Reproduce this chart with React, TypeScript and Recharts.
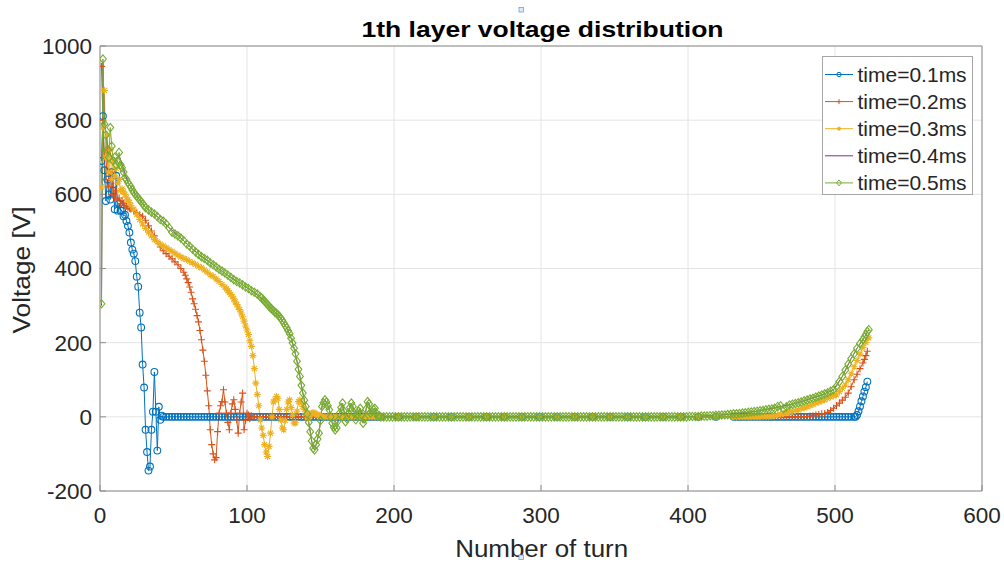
import React from 'react';
import { LineChart, Line, XAxis, YAxis, CartesianGrid, Legend } from 'recharts';

const xTicks = [0, 100, 200, 300, 400, 500, 600];
const yTicks = [-200, 0, 200, 400, 600, 800, 1000];
const seriesNames = ['time=0.1ms', 'time=0.2ms', 'time=0.3ms', 'time=0.4ms', 'time=0.5ms'];
const seriesColors = ['#0072BD', '#D95319', '#EDB120', '#7E2F8E', '#77AC30'];
const seriesMarkers = ['circle', 'plus', 'star', 'none', 'diamond'];

// [turn, voltage]
const time01: [number, number][] = [
  [1, 690], [2, 811], [3, 665], [4, 582], [5, 640], [6, 600], [7, 586], [8, 660], [9, 610], [10, 560],
  [11, 650], [12, 556], [13, 575], [14, 556], [15, 556], [16, 541], [17, 545], [18, 528], [19, 515], [20, 497],
  [21, 470], [22, 451], [23, 440], [24, 420], [25, 378], [26, 351], [27, 281], [28, 241], [29, 141], [30, 79],
  [31, -35], [32, -95], [33, -145], [34, -134], [35, -35], [36, 14], [37, 121], [38, 14], [39, -91], [40, 27],
  [41, -8], [42, 3],
  [43, 0], [45, 0], [47, 0], [49, 0], [51, 0], [53, 0], [55, 0], [57, 0], [59, 0], [61, 0], [63, 0], [65, 0],
  [67, 0], [69, 0], [71, 0], [73, 0], [75, 0], [77, 0], [79, 0], [81, 0], [83, 0], [85, 0], [87, 0], [89, 0],
  [91, 0], [93, 0], [95, 0], [97, 0], [99, 0], [101, 0], [103, 0], [105, 0], [107, 0], [109, 0], [111, 0],
  [113, 0], [115, 0], [117, 0], [119, 0], [121, 0], [123, 0], [125, 0], [127, 0], [129, 0], [131, 0], [133, 0],
  [135, 0], [137, 0], [139, 0], [141, 0], [143, 0], [145, 0], [147, 0], [149, 0], [151, 0], [153, 0], [155, 0],
  [157, 0], [159, 0], [161, 0], [163, 0], [165, 0], [167, 0], [169, 0], [171, 0], [173, 0], [175, 0], [177, 0],
  [179, 0], [181, 0], [183, 0], [185, 0], [187, 0], [189, 0], [191, 0],
  [203, 0], [215, 0], [227, 0], [239, 0], [251, 0], [263, 0], [275, 0], [287, 0], [299, 0], [311, 0], [323, 0],
  [335, 0], [347, 0], [359, 0], [371, 0], [383, 0], [395, 0], [407, 0], [419, 0], [431, 0],
  [433, 0], [435, 0], [437, 0], [439, 0], [441, 0], [443, 0], [445, 0], [447, 0], [449, 0], [451, 0], [453, 0],
  [455, 0], [457, 0], [459, 0], [461, 0], [463, 0], [465, 0], [467, 0], [469, 0], [471, 0], [473, 0], [475, 0],
  [477, 0], [479, 0], [481, 0], [483, 0], [485, 0], [487, 0], [489, 0], [491, 0], [493, 0], [495, 0], [497, 0],
  [499, 0], [501, 0], [503, 0], [505, 0], [507, 0], [509, 0], [511, 0], [513, 0], [514, 0],
  [515, 5], [516, 15], [517, 28], [518, 42], [519, 55], [520, 68], [521, 80], [522, 95],
];

const time02: [number, number][] = [
  [1, 945], [2, 800], [3, 700], [4, 640], [5, 720], [6, 620], [7, 660], [8, 600], [9, 640], [10, 590],
  [11, 610], [12, 585], [13, 590], [14, 575], [15, 582], [16, 576], [17, 570], [18, 568], [19, 565], [20, 562],
  [21, 560], [23, 555], [25, 550], [27, 545], [29, 541], [31, 530], [33, 515], [35, 501], [37, 488], [39, 472],
  [41, 458], [43, 448], [45, 440], [47, 433], [49, 426], [51, 418], [53, 410], [55, 400], [57, 390], [58, 382],
  [59, 372], [60, 362], [61, 350], [62, 336], [63, 318],
  [64, 305], [65, 290], [66, 273], [67, 256], [68, 233], [69, 208], [70, 180], [71, 150], [72, 112], [73, 70],
  [74, 30], [75, -35], [76, -75], [77, -100], [78, -116], [79, -110], [80, -40], [81, 10], [82, 30], [83, 41],
  [84, 73], [85, 40], [86, 10], [87, -15], [88, -35], [89, 10], [90, 35], [91, 46], [92, 20], [93, -8],
  [94, -44], [95, 10], [96, 40], [97, 64], [98, -35], [99, -10], [100, 10], [101, 5], [102, -5], [103, 3],
  [105, 0], [107, 0], [109, 0], [111, 0], [113, 0], [115, 0], [117, 0], [119, 0], [121, 0], [123, 0], [125, 0],
  [127, 0], [129, 0], [131, 0], [133, 0], [135, 0], [137, 0], [139, 0], [141, 0], [143, 0], [145, 0], [147, 0],
  [149, 0], [151, 0], [153, 0], [155, 0], [157, 0], [159, 0], [161, 0], [163, 0], [165, 0], [167, 0], [169, 0],
  [171, 0], [173, 0], [175, 0], [177, 0], [179, 0], [181, 0], [183, 0], [185, 0], [187, 0], [189, 0], [191, 0],
  [203, 0], [215, 0], [227, 0], [239, 0], [251, 0], [263, 0], [275, 0], [287, 0], [299, 0], [311, 0], [323, 0],
  [335, 0], [347, 0], [359, 0], [371, 0], [383, 0], [395, 0], [407, 0], [419, 0], [431, 0],
  [433, 0], [435, 0], [437, 0], [439, 0], [441, 0], [443, 0], [445, 0], [447, 0], [449, 0], [451, 0], [453, 0],
  [455, 0], [457, 0], [459, 0], [461, 0], [463, 0], [465, 0], [467, 0], [469, 0], [471, 0], [473, 0], [475, 0],
  [477, 0], [479, 0], [481, 1], [483, 2], [485, 3], [487, 5], [489, 6], [491, 8], [493, 9], [495, 12],
  [497, 17], [499, 23], [501, 30], [503, 37], [505, 45], [507, 53], [509, 64], [511, 81], [513, 100],
  [515, 115], [517, 130], [519, 145], [520, 155], [521, 165], [522, 177],
];

const time03: [number, number][] = [
  [1, 620], [2, 780], [3, 880], [4, 700], [5, 760], [6, 660], [7, 720], [8, 640], [9, 690], [10, 650],
  [11, 670], [12, 630], [13, 640], [14, 610], [15, 615], [16, 607], [17, 600], [18, 592], [19, 585], [20, 578],
  [21, 570], [23, 560], [25, 545],
  [27, 532], [29, 520], [31, 508], [33, 498], [35, 488], [37, 478], [39, 472], [41, 466], [43, 461], [45, 456],
  [47, 451], [49, 446], [51, 441], [53, 436], [55, 431], [57, 427], [59, 424], [61, 419], [63, 415], [65, 411],
  [67, 406], [69, 402], [71, 396], [73, 390], [75, 383], [77, 379], [79, 372], [81, 365], [83, 357], [85, 350],
  [86, 345], [87, 340], [88, 335], [89, 330], [90, 325], [91, 318], [92, 310], [93, 303], [94, 296], [95, 289],
  [96, 280], [97, 270],
  [98, 258], [99, 245], [100, 234], [101, 222], [102, 205], [103, 190], [104, 165], [105, 130], [106, 91], [107, 60],
  [108, 30], [109, -8], [110, -30], [111, -50], [112, -75], [113, -95], [114, -107], [115, -80], [116, -44], [117, 0],
  [118, 40], [119, 46], [120, 55], [121, 50], [122, 20], [123, -8], [124, -30], [125, -35], [126, -10], [127, 20],
  [128, 40], [129, 46], [130, 25], [131, 5], [132, -17], [133, -16], [134, 15], [135, 41], [136, 46], [137, 38],
  [138, 28], [139, 20], [140, 8], [141, -3], [142, -3], [143, 5], [144, 10], [145, 12], [146, 10], [147, 7],
  [148, 5], [149, 3], [150, 2], [151, 1],
  [153, 0], [155, 0], [157, 0], [159, 0], [161, 0], [163, 0], [165, 0], [167, 0], [169, 0], [171, 0], [173, 0],
  [175, 0], [177, 0], [179, 0], [181, 0], [183, 0], [185, 0], [187, 0], [189, 0], [191, 0],
  [203, 0], [215, 0], [227, 0], [239, 0], [251, 0], [263, 0], [275, 0], [287, 0], [299, 0], [311, 0], [323, 0],
  [335, 0], [347, 0], [359, 0], [371, 0], [383, 0], [395, 0], [407, 0], [419, 0], [431, 0],
  [433, 0], [435, 0], [437, 0], [439, 0], [441, 0], [443, 0], [445, 0], [447, 0], [449, 0], [451, 1], [453, 1],
  [455, 1], [457, 2], [459, 3], [461, 5], [463, 7], [465, 9], [467, 11], [469, 13], [471, 15], [473, 17],
  [475, 19], [477, 22], [479, 24], [481, 27], [483, 30], [485, 33], [487, 37], [489, 40], [491, 43], [493, 46],
  [495, 50], [497, 54], [499, 57], [501, 59], [503, 68], [505, 77], [507, 86], [509, 100], [511, 116],
  [513, 135], [515, 152], [517, 169], [519, 187], [521, 200], [523, 213],
];

const time04: [number, number][] = [
  [1, 300], [2, 955], [3, 800], [5, 730], [9, 690], [13, 705], [19, 632], [25, 595], [31, 564], [39, 540],
  [47, 510], [55, 482], [63, 452], [71, 427], [79, 404], [87, 382], [95, 361], [103, 340], [111, 316], [117, 290],
  [121, 275], [125, 253], [128, 232], [130, 212], [132, 185], [134, 150], [136, 109], [137, 85], [138, 64],
  [139, 45], [140, 28], [141, 8], [142, -15], [143, -40], [144, -65], [145, -85], [146, -89], [147, -75],
  [148, -60], [149, -44], [150, -10], [151, 28], [152, 38], [153, 46], [154, 40], [155, 30], [156, 19], [157, 0],
  [158, -17], [159, -28], [160, -35], [161, -30], [162, -10], [163, 10], [164, 25], [165, 37], [166, 15],
  [167, -13], [168, -5], [169, 10], [170, 25], [171, 37], [172, 28], [173, 10], [174, -8], [175, 5], [176, 15],
  [177, 23], [178, 5], [179, -17], [180, -5], [181, 20], [182, 41], [183, 35], [184, 10], [185, 15], [186, 20],
  [187, 23], [188, 10], [189, 1], [190, 3], [191, 0], [251, 0], [311, 0], [371, 0], [399, 0], [423, 5],
  [447, 15], [471, 34], [491, 59], [499, 73], [505, 109], [511, 157], [515, 185], [519, 208], [523, 235],
];

const time05: [number, number][] = [
  [1, 305], [2, 965], [3, 790], [4, 760], [5, 720], [6, 700], [7, 780], [8, 730], [9, 690], [10, 700],
  [11, 680], [12, 690], [13, 713], [14, 680], [15, 672], [16, 660], [17, 645], [18, 640], [19, 632], [20, 626],
  [21, 620], [22, 612], [23, 605], [24, 600], [25, 595], [26, 590], [27, 585], [28, 580], [29, 575], [30, 570],
  [31, 564], [33, 558], [35, 552], [37, 547], [39, 540], [41, 532],
  [43, 528], [45, 520], [47, 510], [49, 498], [51, 493], [53, 488], [55, 482], [57, 475], [59, 466], [61, 460],
  [63, 452], [65, 445], [67, 438], [69, 432], [71, 427], [73, 422], [75, 415], [77, 410], [79, 404], [81, 398],
  [83, 393], [85, 388], [87, 382], [89, 376], [91, 370], [93, 365], [95, 361], [97, 356], [99, 350], [101, 346],
  [103, 340], [105, 336], [107, 331], [109, 324], [110, 320], [111, 316], [112, 312], [113, 307], [114, 303],
  [115, 298], [116, 294], [117, 290], [118, 286], [119, 282], [120, 279],
  [121, 275], [122, 271], [123, 266], [124, 260], [125, 253], [126, 246], [127, 240], [128, 232], [129, 224],
  [130, 212], [131, 199], [132, 185], [133, 170], [134, 150], [135, 128], [136, 109], [137, 85], [138, 64],
  [139, 45], [140, 28], [141, 8], [142, -15], [143, -40], [144, -65], [145, -85], [146, -89], [147, -75],
  [148, -60], [149, -44], [150, -10], [151, 28], [152, 38], [153, 46], [154, 40], [155, 30], [156, 19], [157, 0],
  [158, -17], [159, -28], [160, -35], [161, -30], [162, -10], [163, 10], [164, 25], [165, 37], [166, 15],
  [167, -13], [168, -5], [169, 10], [170, 25], [171, 37], [172, 28], [173, 10], [174, -8], [175, 5], [176, 15],
  [177, 23], [178, 5], [179, -17], [180, -5], [181, 20], [182, 41], [183, 35], [184, 10], [185, 15], [186, 20],
  [187, 23], [188, 10], [189, 1], [190, 3], [191, 0],
  [193, 0], [195, 0], [197, 0], [199, 0], [201, 0], [203, 0], [205, 0], [207, 0], [209, 0], [211, 0], [213, 0],
  [215, 0], [217, 0], [219, 0], [221, 0], [223, 0], [225, 0], [227, 0], [229, 0], [231, 0], [233, 0], [235, 0],
  [237, 0], [239, 0], [241, 0], [243, 0], [245, 0], [247, 0], [249, 0], [251, 0], [253, 0], [255, 0], [257, 0],
  [259, 0], [261, 0], [263, 0], [265, 0], [267, 0], [269, 0], [271, 0], [273, 0], [275, 0], [277, 0], [279, 0],
  [281, 0], [283, 0], [285, 0], [287, 0], [289, 0], [291, 0], [293, 0], [295, 0], [297, 0], [299, 0], [301, 0],
  [303, 0], [305, 0], [307, 0], [309, 0], [311, 0], [313, 0], [315, 0], [317, 0], [319, 0], [321, 0], [323, 0],
  [325, 0], [327, 0], [329, 0], [331, 0], [333, 0], [335, 0], [337, 0], [339, 0], [341, 0], [343, 0], [345, 0],
  [347, 0], [349, 0], [351, 0], [353, 0], [355, 0], [357, 0], [359, 0], [361, 0], [363, 0], [365, 0], [367, 0],
  [369, 0], [371, 0], [373, 0], [375, 0], [377, 0], [379, 0], [381, 0], [383, 0], [385, 0], [387, 0], [389, 0],
  [391, 0], [393, 0], [395, 0], [397, 0], [399, 0],
  [401, 1], [403, 1], [405, 1], [407, 1], [409, 2], [411, 2], [413, 2], [415, 3], [417, 3], [419, 4], [421, 4],
  [423, 5], [425, 5], [427, 6], [429, 7], [431, 8], [433, 8], [435, 9], [437, 10], [439, 11], [441, 12],
  [443, 13], [445, 14], [447, 15], [449, 16], [451, 17], [453, 19], [455, 20], [457, 21], [459, 23], [461, 28],
  [463, 30], [465, 22], [467, 27], [469, 32], [471, 34], [473, 36], [475, 38], [477, 40], [479, 43], [481, 45],
  [483, 48], [485, 50], [487, 53], [489, 56], [491, 59], [493, 62], [495, 65], [497, 69], [499, 73], [501, 82],
  [503, 95], [505, 109], [507, 126], [509, 142], [511, 157], [513, 170], [515, 185], [517, 198], [519, 208],
  [520, 215], [521, 222], [522, 230], [523, 235],
];

const seriesData = [time01, time02, time03, time04, time05].map((pairs) =>
  pairs.map(([t, v]) => ({ t, v }))
);

const FONT = '"Liberation Sans", Arial, Helvetica, sans-serif';
const TEXT = '#262626';
const AXIS = '#8c8c8c';

function Marker({ kind, cx, cy, color }: { kind: string; cx: number; cy: number; color: string }) {
  if (cx == null || cy == null || Number.isNaN(cx) || Number.isNaN(cy)) return null;
  const sw = 1.1;
  if (kind === 'circle') {
    return <circle cx={cx} cy={cy} r={3.4} fill="none" stroke={color} strokeWidth={sw} />;
  }
  if (kind === 'plus') {
    return (
      <path d={`M${cx - 3.5},${cy}H${cx + 3.5}M${cx},${cy - 3.5}V${cy + 3.5}`} fill="none" stroke={color} strokeWidth={sw} />
    );
  }
  if (kind === 'star') {
    return (
      <path
        d={`M${cx - 3.5},${cy}H${cx + 3.5}M${cx},${cy - 3.5}V${cy + 3.5}M${cx - 2.5},${cy - 2.5}L${cx + 2.5},${cy + 2.5}M${cx - 2.5},${cy + 2.5}L${cx + 2.5},${cy - 2.5}`}
        fill="none"
        stroke={color}
        strokeWidth={sw}
      />
    );
  }
  if (kind === 'diamond') {
    return (
      <path
        d={`M${cx},${cy - 4.2}L${cx + 3.4},${cy}L${cx},${cy + 4.2}L${cx - 3.4},${cy}Z`}
        fill="none"
        stroke={color}
        strokeWidth={sw}
      />
    );
  }
  return null;
}

function LegendMarker({ kind, cx, cy, color }: { kind: string; cx: number; cy: number; color: string }) {
  if (kind === 'circle') return <circle cx={cx} cy={cy} r={2.2} fill="none" stroke={color} strokeWidth={1} />;
  if (kind === 'plus') return <path d={`M${cx - 2},${cy}H${cx + 2}M${cx},${cy - 2.5}V${cy + 2.5}`} stroke={color} strokeWidth={1} />;
  if (kind === 'star') return <circle cx={cx} cy={cy} r={1.6} fill={color} stroke={color} strokeWidth={0.8} />;
  if (kind === 'diamond')
    return <path d={`M${cx},${cy - 3}L${cx + 2.4},${cy}L${cx},${cy + 3}L${cx - 2.4},${cy}Z`} fill="none" stroke={color} strokeWidth={1} />;
  return null;
}

const renderLegend = () => (
  <svg width={152} height={140} style={{ display: 'block', overflow: 'visible' }}>
    <rect x={0.5} y={0.5} width={150} height={138} fill="#ffffff" stroke="#a6a6a6" strokeWidth={1} />
    {seriesNames.map((name, i) => {
      const cy = 18.5 + i * 27.1;
      return (
        <g key={name}>
          <line x1={3} x2={31} y1={cy} y2={cy} stroke={seriesColors[i]} strokeWidth={1} />
          <LegendMarker kind={seriesMarkers[i]} cx={17} cy={cy} color={seriesColors[i]} />
          <text x={35.5} y={cy + 7.5} fontSize={21} fill={TEXT} fontFamily={FONT}>
            {name}
          </text>
        </g>
      );
    })}
  </svg>
);

export default function App() {
  const tickStyle = { fontSize: 22.5, fill: TEXT, fontFamily: FONT };
  return (
    <div style={{ position: 'absolute', left: 0, top: 0, width: 1004, height: 562, background: '#fff', fontFamily: FONT }}>
      <LineChart width={1004} height={562} margin={{ top: 26, right: 2, bottom: 41, left: 40 }}>
        <CartesianGrid stroke="#e4e4e4" strokeWidth={1} />
        <XAxis
          type="number"
          dataKey="t"
          domain={[0, 600]}
          ticks={xTicks}
          interval={0}
          height={30}
          tick={tickStyle}
          tickSize={-6}
          tickMargin={22}
          stroke={AXIS}
          tickLine={{ stroke: AXIS }}
          allowDataOverflow
        />
        <XAxis
          xAxisId="top"
          orientation="top"
          type="number"
          domain={[0, 600]}
          ticks={xTicks}
          interval={0}
          height={20}
          tick={false}
          tickSize={-6}
          stroke={AXIS}
          allowDataOverflow
        />
        <YAxis
          type="number"
          domain={[-200, 1000]}
          ticks={yTicks}
          interval={0}
          width={60}
          tick={tickStyle}
          tickSize={-6}
          tickMargin={14}
          stroke={AXIS}
          tickLine={{ stroke: AXIS }}
          allowDataOverflow
        />
        <YAxis
          yAxisId="right"
          orientation="right"
          type="number"
          domain={[-200, 1000]}
          ticks={yTicks}
          interval={0}
          width={20}
          tick={false}
          tickSize={-6}
          stroke={AXIS}
          allowDataOverflow
        />
        {seriesData.map((rows, i) => (
          <Line
            key={seriesNames[i]}
            data={rows}
            dataKey="v"
            name={seriesNames[i]}
            type="linear"
            stroke={seriesColors[i]}
            strokeWidth={1}
            isAnimationActive={false}
            activeDot={false}
            dot={
              seriesMarkers[i] === 'none'
                ? false
                : (p: any) => (
                    <Marker key={`m${i}-${p.index}`} kind={seriesMarkers[i]} cx={p.cx} cy={p.cy} color={seriesColors[i]} />
                  )
            }
          />
        ))}
        <Legend
          content={renderLegend}
          layout="vertical"
          align="center"
          verticalAlign="middle"
          wrapperStyle={{ left: 822, top: 56, width: 152, height: 140 }}
        />
      </LineChart>
      <svg
        width={1004}
        height={562}
        style={{ position: 'absolute', left: 0, top: 0, pointerEvents: 'none' }}
      >
        <text
          x={542.5}
          y={36.7}
          textAnchor="middle"
          fontSize={22}
          fontWeight="bold"
          fill="#000"
          fontFamily={FONT}
          textLength={362}
          lengthAdjust="spacingAndGlyphs"
        >
          1th layer voltage distribution
        </text>
        <text
          x={541.7}
          y={556.7}
          textAnchor="middle"
          fontSize={23}
          fill={TEXT}
          fontFamily={FONT}
          textLength={173}
          lengthAdjust="spacingAndGlyphs"
        >
          Number of turn
        </text>
        <text
          transform="translate(29.5,270) rotate(-90)"
          x={0}
          y={0}
          textAnchor="middle"
          fontSize={23}
          fill={TEXT}
          fontFamily={FONT}
          textLength={127}
          lengthAdjust="spacingAndGlyphs"
        >
          Voltage [V]
        </text>
        <rect x={519} y={7.5} width={4.5} height={4.5} fill="#dbe9f8" stroke="#6aa3da" strokeWidth={0.8} />
        <rect x={519} y={555} width={4.5} height={4.5} fill="#dbe9f8" stroke="#6aa3da" strokeWidth={0.8} />
      </svg>
    </div>
  );
}
